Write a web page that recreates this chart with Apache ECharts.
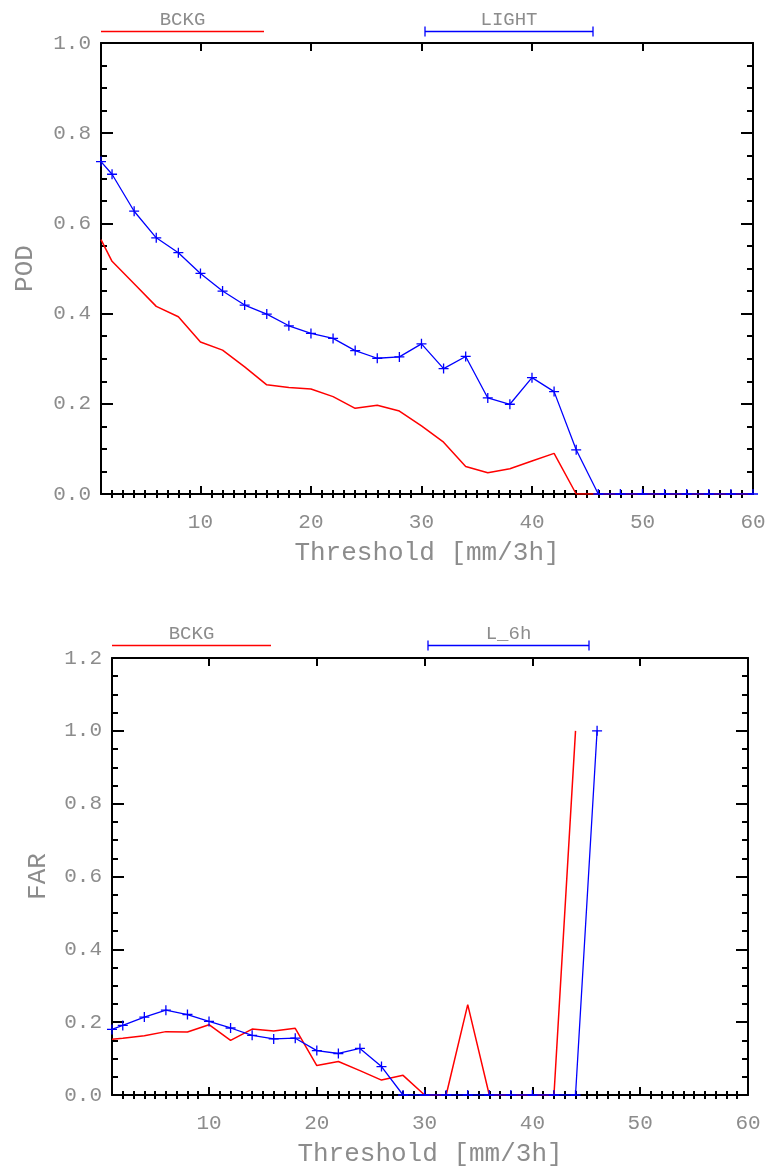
<!DOCTYPE html>
<html>
<head>
<meta charset="utf-8">
<script src="https://cdn.jsdelivr.net/npm/echarts@6/dist/echarts.min.js"></script>
<style>
html,body{margin:0;padding:0;background:#fff;}
#chart{width:770px;height:1168px;}
</style>
</head>
<body>
<div id="chart"></div>
<script>
// ---- data ----
const thresholds = [1,2,4,6,8,10,12,14,16,18,20,22,24,26,28,30,32,34,36,38,40,42,44,46,48,50,52,54,56,58,60];
const podBckg  = [0.564,0.516,0.466,0.416,0.393,0.337,0.319,0.282,0.242,0.236,0.233,0.216,0.190,0.197,0.184,0.151,0.115,0.061,0.047,0.056,0.073,0.090,0,0,0,0,0,0,0,0,0];
const podLight = [0.737,0.709,0.627,0.568,0.535,0.489,0.450,0.419,0.399,0.373,0.356,0.345,0.318,0.301,0.304,0.333,0.278,0.305,0.213,0.199,0.258,0.227,0.098,0,0,0,0,0,0,0,0];
const farBckg  = [0.153,0.156,0.163,0.174,0.173,0.193,0.150,0.181,0.176,0.183,0.081,0.092,0.067,0.041,0.054,0,0,0.248,0,0,0,0,1.0,null,null,null,null,null,null,null,null];
const farL6h   = [0.180,0.191,0.214,0.233,0.221,0.202,0.184,0.164,0.154,0.156,0.122,0.114,0.128,0.078,0,0,0,0,0,0,0,0,0,1.0,null,null,null,null,null,null,null];
const xTickLabels = [10,20,30,40,50,60];
const xMinorTicks = [2,3,4,5,6,7,8,9,11,12,13,14,15,16,17,18,19,21,22,23,24,25,26,27,28,29,31,32,33,34,35,36,37,38,39,41,42,43,44,45,46,47,48,49,51,52,53,54,55,56,57,58,59];
const xMajorTicks = [10,20,30,40,50];
const legendTop = ['BCKG','LIGHT'];
const legendBottom = ['BCKG','L_6h'];

function pairs(ys){
  const out = [];
  ys.forEach((v,i)=>{ if(v!==null) out.push([thresholds[i], v]); });
  return out;
}

const FONT = 'Liberation Mono';
const GRAY = '#8c8c8c';
const PLUS = 'path://M4.35,0h1.3v10h-1.3z M0,4.35h10v1.3h-10z';
const HALF = 'path://M4.35,0h1.3v5h-1.3z M0,4.35h10v1.3h-10z M0,9.99h0.01v0.01h-0.01z';

function xAxesFor(g){
  const line = {show:true, onZero:false, lineStyle:{color:'#000', width:2}};
  const base = {type:'value', gridIndex:g, min:1, max:60, splitLine:{show:false}};
  return [
    Object.assign({}, base, {position:'bottom', axisLine:line,
      axisTick:{show:true, inside:true, length:8, customValues:xMajorTicks, lineStyle:{color:'#000', width:2}},
      axisLabel:{show:true, customValues:xTickLabels, margin:18, color:GRAY, fontFamily:FONT, fontSize:21},
      name:'Threshold [mm/3h]', nameLocation:'middle', nameGap:46,
      nameTextStyle:{color:GRAY, fontFamily:FONT, fontSize:26}}),
    Object.assign({}, base, {position:'bottom', axisLine:{show:false},
      axisTick:{show:true, inside:true, length:4, customValues:xMinorTicks, lineStyle:{color:'#000', width:2}},
      axisLabel:{show:false}}),
    Object.assign({}, base, {position:'top', axisLine:line,
      axisTick:{show:true, inside:true, length:8, customValues:xMajorTicks, lineStyle:{color:'#000', width:2}},
      axisLabel:{show:false}}),
    Object.assign({}, base, {position:'top', axisLine:{show:false},
      axisTick:{show:true, inside:true, length:4, customValues:xMinorTicks, lineStyle:{color:'#000', width:2}},
      axisLabel:{show:false}})
  ];
}
function yAxesFor(g, ymax, name, gap){
  const line = {show:true, onZero:false, lineStyle:{color:'#000', width:2}};
  const base = {type:'value', gridIndex:g, min:0, max:ymax, interval:0.2, splitLine:{show:false},
    axisTick:{show:true, inside:true, length:12, lineStyle:{color:'#000', width:2}},
    minorTick:{show:true, splitNumber:4, length:6, lineStyle:{color:'#000', width:2}},
    minorSplitLine:{show:false}};
  return [
    Object.assign({}, base, {position:'left', axisLine:line,
      axisLabel:{show:true, margin:10, color:GRAY, fontFamily:FONT, fontSize:21, formatter:v=>v.toFixed(1)},
      name:name, nameLocation:'middle', nameGap:gap, nameRotate:90,
      nameTextStyle:{color:GRAY, fontFamily:FONT, fontSize:26}}),
    Object.assign({}, base, {position:'right', axisLine:line, axisLabel:{show:false}})
  ];
}

function redSeries(xi, yi, ys, name){
  return {type:'line', name:name, xAxisIndex:xi, yAxisIndex:yi, data:pairs(ys),
    showSymbol:false, symbol:'none', lineStyle:{color:'#ff0000', width:1.5}, itemStyle:{color:'#ff0000'},
    z:2, animation:false, clip:true};
}
function blueSeries(xi, yi, ys, name){
  return {type:'line', name:name, xAxisIndex:xi, yAxisIndex:yi, data:pairs(ys),
    showSymbol:true, symbol:(v)=> (v[1]===0 ? HALF : PLUS), symbolSize:10,
    lineStyle:{color:'#0000ff', width:1.3}, itemStyle:{color:'#0000ff', borderWidth:0},
    z:3, animation:false, clip:true};
}

function legendGraphic(names, y, textY, redX0, redX1, blueX0, blueX1){
  const tstyle = (t, x)=>({type:'text', x:x, y:textY,
    style:{text:t, fill:GRAY, font:'19px "Liberation Mono"', align:'center', verticalAlign:'middle'}});
  return [
    {type:'line', shape:{x1:redX0, y1:y, x2:redX1, y2:y}, style:{stroke:'#ff0000', lineWidth:1.5}},
    tstyle(names[0], (redX0+redX1)/2),
    {type:'line', shape:{x1:blueX0, y1:y, x2:blueX1, y2:y}, style:{stroke:'#0000ff', lineWidth:1.3}},
    {type:'line', shape:{x1:blueX0, y1:y-5, x2:blueX0, y2:y+5}, style:{stroke:'#0000ff', lineWidth:1.3}},
    {type:'line', shape:{x1:blueX1, y1:y-5, x2:blueX1, y2:y+5}, style:{stroke:'#0000ff', lineWidth:1.3}},
    tstyle(names[1], (blueX0+blueX1)/2)
  ];
}

const chart = echarts.init(document.getElementById('chart'), null, {renderer:'canvas'});
chart.setOption({
  backgroundColor:'#fff',
  animation:false,
  grid:[
    {left:101, right:17, top:43, bottom:674, containLabel:false},
    {left:112, right:22, top:658, bottom:71, containLabel:false}
  ],
  xAxis: xAxesFor(0).concat(xAxesFor(1)),
  yAxis: yAxesFor(0, 1.0, 'POD', 63).concat(yAxesFor(1, 1.2, 'FAR', 61)),
  series:[
    redSeries(0, 0, podBckg, 'BCKG'),
    blueSeries(0, 0, podLight, 'LIGHT'),
    redSeries(4, 2, farBckg, 'BCKG'),
    blueSeries(4, 2, farL6h, 'L_6h')
  ],
  graphic: legendGraphic(legendTop, 31.5, 19.5, 101, 264, 425, 593)
    .concat(legendGraphic(legendBottom, 645.5, 634, 112, 271, 428, 589))
});
</script>
</body>
</html>
